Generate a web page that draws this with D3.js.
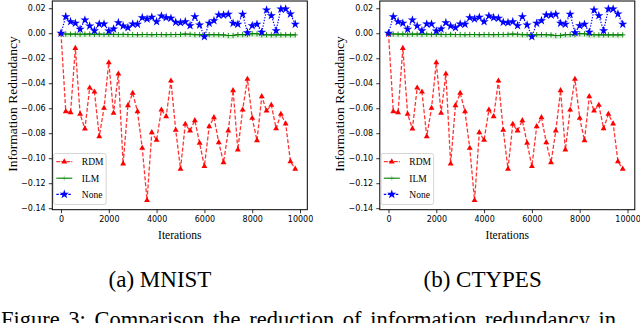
<!DOCTYPE html>
<html><head><meta charset="utf-8">
<script src="https://cdn.jsdelivr.net/npm/d3@7"></script>
<style>body{margin:0;background:#fff;overflow:hidden} svg{display:block}</style>
</head><body>
<svg id="c" width="640" height="323"></svg>
<script>
const iterations = [0,200,400,600,800,1000,1200,1400,1600,1800,2000,2200,2400,2600,2800,3000,3200,3400,3600,3800,4000,4200,4400,4600,4800,5000,5200,5400,5600,5800,6000,6200,6400,6600,6800,7000,7200,7400,7600,7800,8000,8200,8400,8600,8800,9000,9200,9400,9600,9800];
const rdmValues = [0.0,-0.0626,-0.0634,-0.012,-0.0647,-0.0764,-0.0437,-0.0469,-0.0826,-0.0599,-0.0235,-0.0639,-0.0325,-0.1044,-0.0578,-0.0479,-0.0626,-0.0919,-0.1337,-0.0794,-0.0855,-0.0613,-0.0666,-0.0381,-0.0775,-0.1086,-0.0727,-0.078,-0.0698,-0.0879,-0.1065,-0.0746,-0.0674,-0.0874,-0.1034,-0.078,-0.0458,-0.0932,-0.0613,-0.0367,-0.0679,-0.0858,-0.0506,-0.0621,-0.0575,-0.0762,-0.0647,-0.0724,-0.1026,-0.1086];
const ilmValues = [0.0,-0.0006,-0.0007,-0.0006,-0.0008,-0.0007,-0.0006,-0.0008,-0.0007,-0.0009,-0.0008,-0.0009,-0.0010,-0.0009,-0.0010,-0.0010,-0.0011,-0.0010,-0.0010,-0.0011,-0.0010,-0.0010,-0.0011,-0.0010,-0.0010,-0.0009,-0.0006,-0.0008,-0.0011,-0.0011,-0.0012,-0.0011,-0.0011,-0.0012,-0.0013,-0.0018,-0.0017,-0.0011,-0.0010,-0.0011,-0.0003,-0.0004,-0.0012,-0.0012,-0.0013,-0.0012,-0.0013,-0.0012,-0.0013,-0.0013];
const noneValues = [0.0,0.0133,0.0093,0.008,0.0032,0.0106,0.0058,0.0021,0.0074,0.0074,0.0018,0.0034,0.0085,0.0058,0.0045,0.0074,0.0072,0.0125,0.0114,0.0128,0.0093,0.0138,0.0125,0.012,0.0088,0.0085,0.0093,0.0061,0.0133,0.0066,-0.0027,0.008,0.0101,0.0146,0.0146,0.0152,0.008,0.0072,0.0152,0.0005,0.0061,0.0072,0.0008,0.0186,0.0141,0.0021,0.0194,0.0194,0.0154,0.0072];
const xTicks = [0,2000,4000,6000,8000,10000];
const yTicks = [0.02,0.00,-0.02,-0.04,-0.06,-0.08,-0.10,-0.12,-0.14];
const seriesNames = ["RDM","ILM","None"];
const panelTitles = ["(a) MNIST","(b) CTYPES"];
const figureCaption = "Figure 3: Comparison the reduction of information redundancy in";

const svg = d3.select("#c");
const SERIF = "'Liberation Serif','Times New Roman',serif";
const SANS = "'DejaVu Sans',sans-serif";

const star = d3.symbol().type(d3.symbolStar).size(26);
const tri = d3.symbol().type(d3.symbolTriangle).size(15);
const plusPath = "M-2.6,0H2.6M0,-2.6V2.6";

function drawPanel(dx, title) {
  const L = 52.3 + dx, R = 307.3 + dx, T = 1, B = 209.7;
  const x = d3.scaleLinear().domain([-364, 10305]).range([L, R]);
  const y = d3.scaleLinear().domain([-0.1412, 0.0258]).range([B, T]);
  const g = svg.append("g");

  const ya = g.append("g").attr("transform", `translate(${L},0)`)
    .call(d3.axisLeft(y).tickValues(yTicks).tickSize(3.5).tickPadding(3.2).tickFormat(d3.format(".2f")));
  const xa = g.append("g").attr("transform", `translate(0,${B})`)
    .call(d3.axisBottom(x).tickValues(xTicks).tickSize(3.5).tickPadding(3.2).tickFormat(d3.format("d")));
  [ya, xa].forEach(a => {
    a.select(".domain").remove();
    a.selectAll("line").attr("stroke", "#000").attr("stroke-width", 0.8);
    a.selectAll("text").attr("font-family", SANS).attr("font-size", 8).attr("fill", "#000");
  });

  const band = d3.area().x((d, i) => x(iterations[i])).y0((d) => y(d - 0.0028)).y1(d => y(d));
  g.append("path").datum(ilmValues).attr("d", band).attr("fill", "#2ca02c").attr("opacity", 0.18);

  const line = d3.line().x((d, i) => x(iterations[i])).y(d => y(d));

  g.append("path").datum(rdmValues).attr("d", line).attr("fill", "none")
    .attr("stroke", "#ff0000").attr("stroke-opacity", 0.8).attr("stroke-width", 1.3).attr("stroke-dasharray", "4,2");
  g.selectAll(".rdm").data(rdmValues).join("path")
    .attr("transform", (d, i) => `translate(${x(iterations[i])},${y(d)})`)
    .attr("d", tri()).attr("fill", "#ff0000");

  g.append("path").datum(ilmValues).attr("d", line).attr("fill", "none")
    .attr("stroke", "#008000").attr("stroke-width", 1.1);
  g.selectAll(".ilm").data(ilmValues).join("path")
    .attr("transform", (d, i) => `translate(${x(iterations[i])},${y(d)})`)
    .attr("d", plusPath).attr("stroke", "#008000").attr("stroke-width", 0.9).attr("fill", "none");

  g.append("path").datum(noneValues).attr("d", line).attr("fill", "none")
    .attr("stroke", "#0000ff").attr("stroke-width", 1.2).attr("stroke-dasharray", "1.3,1.5");
  g.selectAll(".none").data(noneValues).join("path")
    .attr("transform", (d, i) => `translate(${x(iterations[i])},${y(d)})`)
    .attr("d", star()).attr("fill", "#0000ff");

  g.append("rect").attr("x", L).attr("y", T).attr("width", R - L).attr("height", B - T)
    .attr("fill", "none").attr("stroke", "#000").attr("stroke-width", 1);

  const lg = g.append("g");
  lg.append("rect").attr("x", L + 1.3).attr("y", 153.5).attr("width", 52.5).attr("height", 51)
    .attr("rx", 2).attr("fill", "#fff").attr("fill-opacity", 0.85).attr("stroke", "#cccccc").attr("stroke-width", 0.8);
  const ys = [161.7, 178.2, 194.3];
  const lx0 = L + 4, lx1 = L + 20, lxm = L + 12;
  lg.append("line").attr("x1", lx0).attr("x2", lx1).attr("y1", ys[0]).attr("y2", ys[0])
    .attr("stroke", "#ff0000").attr("stroke-opacity", 0.8).attr("stroke-width", 1.3).attr("stroke-dasharray", "4,1");
  lg.append("path").attr("transform", `translate(${lxm},${ys[0]})`).attr("d", tri()).attr("fill", "#ff0000");
  lg.append("line").attr("x1", lx0).attr("x2", lx1).attr("y1", ys[1]).attr("y2", ys[1])
    .attr("stroke", "#008000").attr("stroke-width", 1.1);
  lg.append("path").attr("transform", `translate(${lxm},${ys[1]})`).attr("d", plusPath)
    .attr("stroke", "#008000").attr("stroke-opacity", 0.35).attr("stroke-width", 0.9);
  lg.append("line").attr("x1", lx0).attr("x2", lx1).attr("y1", ys[2]).attr("y2", ys[2])
    .attr("stroke", "#0000ff").attr("stroke-width", 1.2).attr("stroke-dasharray", "2.5,1.5");
  lg.append("path").attr("transform", `translate(${lxm},${ys[2]})`).attr("d", star()).attr("fill", "#0000ff");
  seriesNames.forEach((n, i) => {
    lg.append("text").attr("x", L + 29.5).attr("y", ys[i]).attr("dy", "0.35em")
      .attr("font-family", SERIF).attr("font-size", 9.5).attr("fill", "#000").text(n);
  });

  g.append("text").attr("x", (L + R) / 2).attr("y", 238.5).attr("text-anchor", "middle")
    .attr("font-family", SERIF).attr("font-size", 11.5).attr("fill", "#000").text("Iterations");
  g.append("text").attr("transform", `translate(${12 + dx},104) rotate(-90)`)
    .attr("dy", "0.35em").attr("text-anchor", "middle")
    .attr("font-family", SERIF).attr("font-size", 13.5).attr("fill", "#000").text("Information Redundancy");

  svg.append("text").attr("x", 160 + dx * 0.985).attr("y", 287).attr("text-anchor", "middle")
    .attr("font-family", SERIF).attr("font-size", 23).attr("fill", "#000").text(title);
}

drawPanel(0, panelTitles[0]);
drawPanel(327.5, panelTitles[1]);

svg.append("text").attr("x", 1).attr("y", 327).attr("font-family", SERIF).attr("font-size", 22.5)
  .attr("fill", "#000").attr("word-spacing", 3).text(figureCaption);
</script>
</body></html>
